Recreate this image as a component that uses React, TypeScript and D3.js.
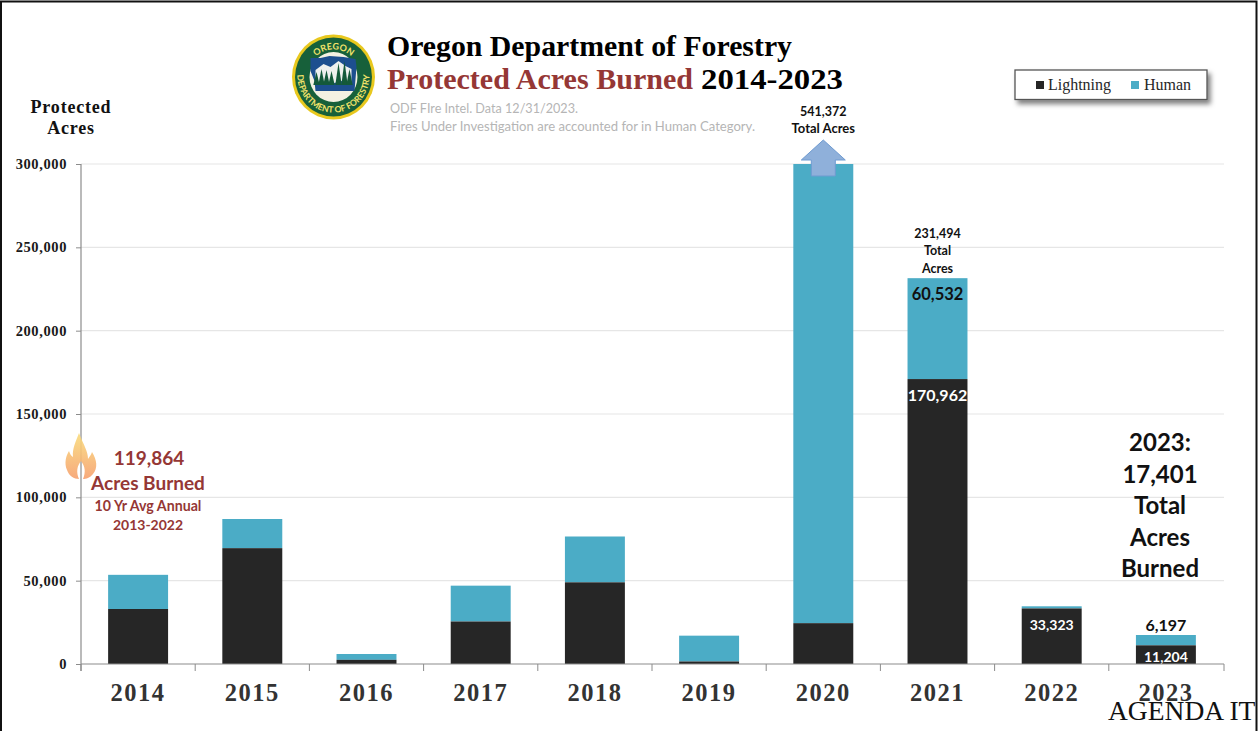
import React, { useEffect, useRef } from 'react';
import * as d3 from 'd3';

const years = ['2014', '2015', '2016', '2017', '2018', '2019', '2020', '2021', '2022', '2023'];
const lightning = [33000, 69500, 2500, 25500, 49000, 1500, 24500, 170962, 33323, 11204];
const human = [20500, 17500, 3500, 21500, 27500, 15500, 516872, 60532, 1300, 6197];
const yTicks = [0, 50000, 100000, 150000, 200000, 250000, 300000];

const SERIF = "'Liberation Serif', serif";
const SANS = "Lato, 'Open Sans', sans-serif";
const RED = '#953735';
const DARK = '#262626';
const TEAL = '#4bacc6';

export default function App() {
    const svgRef = useRef<SVGSVGElement>(null);

    useEffect(() => {
        if (!svgRef.current) return;
        const svg = d3.select(svgRef.current);
        svg.selectAll('*').remove();

        const width = 1258;
        const height = 731;

        const x = d3.scaleBand<string>()
            .domain(years)
            .range([81, 1223])
            .paddingInner(0.475)
            .paddingOuter(0.2375);

        const y = d3.scaleLinear()
            .domain([0, 300000])
            .range([664, 164])
            .clamp(true);

        svg.append('rect').attr('width', width).attr('height', height).attr('fill', '#fff');

        // gridlines
        svg.append('g')
            .selectAll('line')
            .data(yTicks.slice(1))
            .join('line')
            .attr('x1', 81)
            .attr('x2', 1224)
            .attr('y1', d => y(d))
            .attr('y2', d => y(d))
            .attr('stroke', '#e6e6e6')
            .attr('stroke-width', 1.2);

        // bars
        const bars = svg.append('g');
        bars.selectAll('rect.human')
            .data(years)
            .join('rect')
            .attr('class', 'human')
            .attr('x', d => x(d)!)
            .attr('width', x.bandwidth())
            .attr('y', (d, i) => y(lightning[i] + human[i]))
            .attr('height', (d, i) => y(lightning[i]) - y(lightning[i] + human[i]))
            .attr('fill', TEAL);
        bars.selectAll('rect.lightning')
            .data(years)
            .join('rect')
            .attr('class', 'lightning')
            .attr('x', d => x(d)!)
            .attr('width', x.bandwidth())
            .attr('y', (d, i) => y(lightning[i]))
            .attr('height', (d, i) => y(0) - y(lightning[i]))
            .attr('fill', DARK);

        // Y axis
        svg.append('g')
            .attr('transform', 'translate(81,0)')
            .call(d3.axisLeft(y).tickValues(yTicks).tickFormat(d3.format(',') as any).tickSize(5).tickPadding(9))
            .call(g => g.select('.domain').attr('d', 'M0,164V671').attr('stroke', '#8c8c8c').attr('stroke-width', 1.2))
            .call(g => g.selectAll('.tick line').attr('stroke', '#8c8c8c'))
            .call(g => g.selectAll('text')
                .attr('font-family', SERIF)
                .attr('font-size', 14.5)
                .attr('font-weight', 700)
                .attr('letter-spacing', 0.6)
                .attr('fill', '#1a1a1a'));

        // X axis
        const step = x.step();
        const edges = [...years.map((d, i) => 81 + i * step), 1224];
        const xAxis = svg.append('g');
        xAxis.append('line')
            .attr('x1', 81).attr('x2', 1224).attr('y1', 664).attr('y2', 664)
            .attr('stroke', '#8c8c8c').attr('stroke-width', 1.2);
        xAxis.selectAll('line.edge')
            .data(edges)
            .join('line')
            .attr('class', 'edge')
            .attr('x1', d => d).attr('x2', d => d).attr('y1', 664).attr('y2', 671)
            .attr('stroke', '#8c8c8c');
        xAxis.selectAll('text')
            .data(years)
            .join('text')
            .attr('x', d => x(d)! + x.bandwidth() / 2)
            .attr('y', 701)
            .attr('text-anchor', 'middle')
            .attr('font-family', SERIF)
            .attr('font-size', 24.5)
            .attr('font-weight', 700)
            .attr('letter-spacing', 1.5)
            .attr('fill', '#333')
            .text(d => d);

        const label = (
            txt: string, cx: number, by: number, size: number, fill: string,
            family = SANS, anchor = 'middle', weight: number = 700,
        ) => svg.append('text')
            .attr('x', cx).attr('y', by)
            .attr('text-anchor', anchor)
            .attr('font-family', family)
            .attr('font-size', size)
            .attr('font-weight', weight)
            .attr('fill', fill)
            .text(txt);

        const center = (yr: string) => x(yr)! + x.bandwidth() / 2;

        // axis title
        label('Protected', 71, 113, 18, '#111', SERIF).attr('letter-spacing', 0.8);
        label('Acres', 71, 134, 18, '#111', SERIF).attr('letter-spacing', 0.8);

        // title
        label('Oregon Department of Forestry', 387, 56, 29, '#000', SERIF, 'start')
            .attr('textLength', 405).attr('lengthAdjust', 'spacingAndGlyphs');
        label('Protected Acres Burned', 387, 89, 29, RED, SERIF, 'start')
            .attr('textLength', 306).attr('lengthAdjust', 'spacingAndGlyphs');
        label('2014-2023', 701, 89, 29, '#000', SERIF, 'start')
            .attr('textLength', 142).attr('lengthAdjust', 'spacingAndGlyphs');

        label('ODF FIre Intel. Data 12/31/2023.', 390, 113, 13, '#b5b5b5', SANS, 'start', 400)
            .attr('textLength', 188).attr('lengthAdjust', 'spacingAndGlyphs');
        label('Fires Under Investigation are accounted for in Human Category.', 390, 131, 13, '#b5b5b5', SANS, 'start', 400)
            .attr('textLength', 365).attr('lengthAdjust', 'spacingAndGlyphs');

        // logo
        const logo = svg.append('g').attr('transform', 'translate(333.5,77)');
        logo.append('ellipse').attr('rx', 41.5).attr('ry', 42.5).attr('fill', '#e8c81e');
        logo.append('ellipse').attr('rx', 38.5).attr('ry', 39.5).attr('fill', '#17603a');
        logo.append('ellipse').attr('rx', 24).attr('ry', 25).attr('fill', '#f4f1e2');
        logo.append('path')
            .attr('d', 'M-23,-19 L-13,-19 L-4,-21 L10,-20 L22,-18 L23,-10 L21,14 L0,14 L-18,14 L-19,4 L-23,-6 Z')
            .attr('fill', '#1d4f8f');
        logo.append('path')
            .attr('d', 'M-18,-7 L-10,-13 L-3,-10 L5,-16 L12,-11 L18,-8 L18,6 L8,4 L-6,8 L-18,5 Z')
            .attr('fill', '#eef0ee');
        const trees = logo.append('g').attr('fill', '#14593a');
        [[-17, -5], [-12, -8], [-7, -7], [-2, -6], [5, -14], [11, -16], [16, -8]].forEach(([tx, top]) => {
            trees.append('path').attr('d', `M${tx},${top} L${tx + 3.2},8 L${tx - 3.2},8 Z`);
        });
        const defs = svg.append('defs');
        defs.append('path').attr('id', 'logoTop').attr('d', 'M-26,8 A27,28 0 1 1 26,8');
        defs.append('path').attr('id', 'logoBottom').attr('d', 'M-35,-10 A36,37 0 1 0 35,-10');
        logo.append('text')
            .attr('font-family', SANS).attr('font-size', 9).attr('font-weight', 700).attr('fill', '#f3e36a')
            .append('textPath').attr('href', '#logoTop').attr('startOffset', '50%').attr('text-anchor', 'middle')
            .text('OREGON');
        logo.append('text')
            .attr('font-family', SANS).attr('font-size', 8.6).attr('font-weight', 700).attr('fill', '#f3e36a')
            .append('textPath').attr('href', '#logoBottom').attr('startOffset', '50%').attr('text-anchor', 'middle')
            .text('DEPARTMENT OF FORESTRY');

        // legend
        const legendFilter = defs.append('filter').attr('id', 'legendShadow')
            .attr('x', '-10%').attr('y', '-30%').attr('width', '125%').attr('height', '180%');
        legendFilter.append('feDropShadow')
            .attr('dx', 3).attr('dy', 4).attr('stdDeviation', 2.5).attr('flood-color', '#000').attr('flood-opacity', 0.5);
        svg.append('rect')
            .attr('x', 1015).attr('y', 70).attr('width', 192).attr('height', 29.5)
            .attr('fill', '#fff').attr('stroke', '#555').attr('stroke-width', 1.3)
            .attr('filter', 'url(#legendShadow)');
        svg.append('rect').attr('x', 1036).attr('y', 81).attr('width', 8).attr('height', 8).attr('fill', DARK);
        svg.append('rect').attr('x', 1131).attr('y', 81).attr('width', 8).attr('height', 8).attr('fill', TEAL);
        label('Lightning', 1048, 90, 16, '#262626', SERIF, 'start', 400)
            .attr('textLength', 63).attr('lengthAdjust', 'spacingAndGlyphs');
        label('Human', 1144, 90, 16, '#262626', SERIF, 'start', 400)
            .attr('textLength', 47).attr('lengthAdjust', 'spacingAndGlyphs');

        // 2020 off-scale arrow
        const ac = center('2020');
        svg.append('path')
            .attr('d', `M${ac},140 L${ac + 22},160 L${ac + 12},160 L${ac + 12},176 L${ac - 12},176 L${ac - 12},160 L${ac - 22},160 Z`)
            .attr('fill', '#8fb0da')
            .attr('stroke', '#6f9bd1')
            .attr('stroke-width', 1);
        label('541,372', ac, 116, 12.5, '#111');
        label('Total Acres', ac, 133, 13, '#111');

        // 2021 labels
        const c21 = center('2021');
        label('231,494', c21, 238, 12.5, '#111');
        label('Total', c21, 255, 12.5, '#111');
        label('Acres', c21, 273, 12.5, '#111');
        label('60,532', c21, 300, 16.5, '#111');
        label('170,962', c21, 401, 16, '#fff');

        // 2022 / 2023 labels
        label('33,323', center('2022'), 630, 14, '#fff');
        label('6,197', center('2023'), 631, 16, '#111');
        label('11,204', center('2023'), 662, 14, '#fff');

        // 2023 callout
        ['2023:', '17,401', 'Total', 'Acres', 'Burned'].forEach((t, i) => {
            label(t, 1160, 451 + i * 31.5, 24, '#111');
        });

        // 10 yr average callout
        label('119,864', 149, 465, 19, RED);
        label('Acres Burned', 148, 490, 19, RED);
        label('10 Yr Avg Annual', 148, 511, 14.2, RED);
        label('2013-2022', 148, 530, 14, RED);

        // flame
        const grad = defs.append('linearGradient').attr('id', 'flame').attr('x1', 0).attr('y1', 0).attr('x2', 0).attr('y2', 1);
        grad.append('stop').attr('offset', '0%').attr('stop-color', '#f9dc7c');
        grad.append('stop').attr('offset', '100%').attr('stop-color', '#f6a06e');
        svg.append('path')
            .attr('d', 'M79,433 C84,446 88,451 88,459 C90,456 91,455 92,452 C97,460 98,468 93,474 C90,478 86,479 83,479 C86,472 85,466 81,461 C77,466 76,472 79,479 C74,479 69,476 67,470 C64,463 66,456 69,451 C70,454 71,456 73,457 C72,449 76,441 79,433 Z')
            .attr('fill', 'url(#flame)')
            .attr('opacity', 0.9);

        // stray page footer, the window edge cuts it here
        label('AGENDA IT', 1108, 720, 27.5, '#111', SERIF, 'start', 400);

        // page frame
        svg.append('path')
            .attr('d', 'M1,731V1.5H1256.5V731')
            .attr('fill', 'none')
            .attr('stroke', '#111')
            .attr('stroke-width', 2);
    }, []);

    return (
        <svg
            ref={svgRef}
            width={1258}
            height={731}
            viewBox="0 0 1258 731"
            style={{ position: 'fixed', left: 0, top: 0, display: 'block' }}
        />
    );
}
